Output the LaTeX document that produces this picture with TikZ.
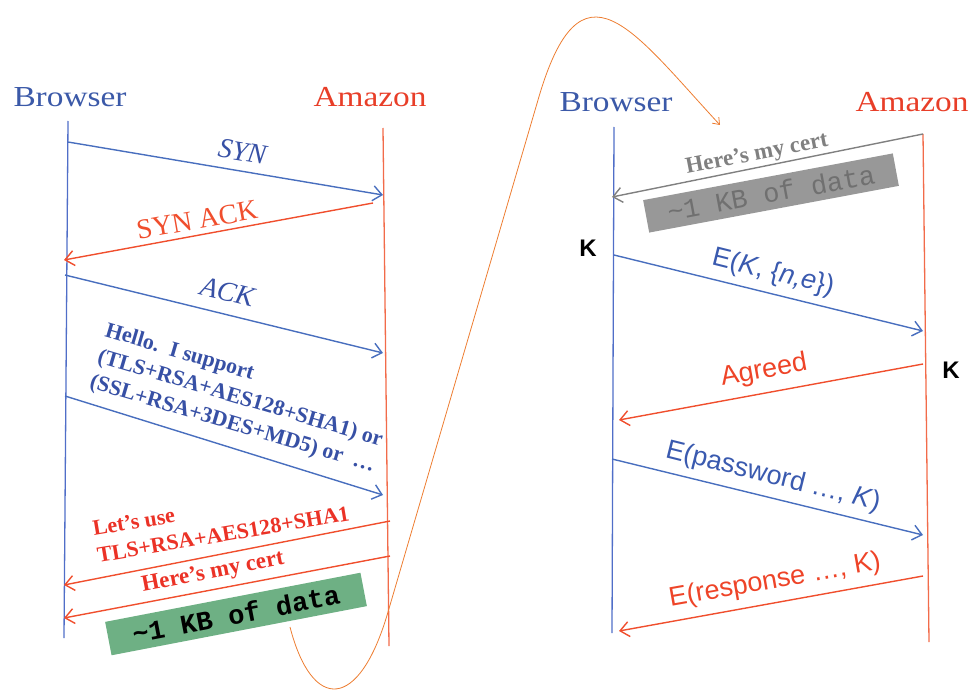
\documentclass[tikz,border=0pt]{standalone}
\usepackage{fontspec}
\setmainfont{Liberation Serif}
\setsansfont{Liberation Sans}
\setmonofont{Liberation Mono}
\usetikzlibrary{arrows.meta}
\definecolor{hdrblue}{RGB}{59,89,168}
\definecolor{hdrred}{RGB}{232,62,40}
\definecolor{lifeblue}{RGB}{80,110,200}
\definecolor{lifered}{RGB}{242,107,74}
\definecolor{arrblue}{RGB}{72,110,190}
\definecolor{arrred}{RGB}{240,78,45}
\definecolor{txtblue}{RGB}{55,80,165}
\definecolor{txtred}{RGB}{235,50,38}
\definecolor{sansblue}{RGB}{58,90,175}
\definecolor{sansred}{RGB}{238,68,40}
\definecolor{boxgreen}{RGB}{110,176,132}
\definecolor{boxgrey}{RGB}{152,152,152}
\definecolor{greytxt}{RGB}{112,112,112}
\definecolor{greyarr}{RGB}{128,128,128}
\definecolor{curveorange}{RGB}{237,125,49}
\begin{document}
\begin{tikzpicture}[x=1pt,y=-1pt,
  hdr/.style={font=\fontsize{29}{32}\selectfont, xscale=1.15, anchor=base, inner sep=0pt},
  life/.style={line width=1.3pt},
  msg/.style={line width=1.4pt, -{Straight Barb[length=9pt,width=15pt]}},
  lbl/.style={inner sep=0pt, anchor=center},
  serifbig/.style={font=\fontsize{28}{30}\selectfont},
  boldlbl/.style={font=\fontsize{22}{27}\selectfont\bfseries, align=left},
  sanslbl/.style={font=\sffamily\fontsize{27}{30}\selectfont},
  klbl/.style={font=\sffamily\bfseries\fontsize{24}{26}\selectfont, inner sep=0pt},
  databox/.style={inner sep=0pt, minimum height=34pt, font=\ttfamily\fontsize{27}{27}\selectfont},
  arc/.style={draw=curveorange, line width=0.8pt, -{Straight Barb[length=6pt,width=9pt]}}
]
\useasboundingbox (0,0) rectangle (969,690);

% ---------- left panel ----------
\node[hdr, text=hdrblue] (lbrowser) at (70,107) {Browser};
\node[hdr, text=hdrred] (lamazon) at (370,107) {Amazon};
\coordinate (LBt) at (68,121);  \coordinate (LBb) at (64,638);
\coordinate (LAt) at (383,128); \coordinate (LAb) at (389,646);
\draw[life, draw=lifeblue] (LBt) -- (LBb);
\draw[life, draw=lifered] (LAt) -- (LAb);

\coordinate (m1a) at (68,142);  \coordinate (m1b) at (383,195);
\coordinate (m2a) at (373,203); \coordinate (m2b) at (64,260);
\coordinate (m3a) at (65,275);  \coordinate (m3b) at (383,353);
\coordinate (m4a) at (65,396);  \coordinate (m4b) at (383,495);
\coordinate (m5a) at (390,521); \coordinate (m5b) at (64,585);
\coordinate (m6a) at (390,556); \coordinate (m6b) at (64,618);
\draw[msg, draw=arrblue] (m1a) -- (m1b);
\draw[msg, draw=arrred]  (m2a) -- (m2b);
\draw[msg, draw=arrblue] (m3a) -- (m3b);
\draw[msg, draw=arrblue] (m4a) -- (m4b);
\draw[msg, draw=arrred]  (m5a) -- (m5b);
\draw[msg, draw=arrred]  (m6a) -- (m6b);

\node[lbl, serifbig, text=txtblue, rotate=-9.5] (tsyn) at (243,152) {\textit{SYN}};
\node[lbl, serifbig, text=arrred, rotate=10] (tsynack) at (197,220) {SYN ACK};
\node[lbl, serifbig, text=txtblue, rotate=-14] (tack) at (228,292) {\textit{ACK}};
\node[lbl, boldlbl, text=txtblue, rotate=-16.5] (thello) at (240,399)
  {Hello.\ \ I support\\(TLS+RSA+AES128+SHA1) or\\(SSL+RSA+3DES+MD5) or\ \ …};
\node[lbl, boldlbl, text=txtred, rotate=9.5] (tlets) at (221,521)
  {Let’s use\\TLS+RSA+AES128+SHA1};
\node[lbl, font=\fontsize{23}{25}\selectfont\bfseries, text=txtred, rotate=11] (tcert) at (213,573) {Here’s my cert};
\node[databox, fill=boxgreen, minimum width=260pt, rotate=10.9] (gbox) at (236,614)
  {\bfseries\textasciitilde1 KB of data};

% ---------- right panel ----------
\node[hdr, text=hdrblue] (rbrowser) at (616,112) {Browser};
\node[hdr, text=hdrred] (ramazon) at (912,112) {Amazon};
\coordinate (RBt) at (614,127); \coordinate (RBb) at (612,633);
\coordinate (RAt) at (923,134); \coordinate (RAb) at (929,642);
\draw[life, draw=lifeblue] (RBt) -- (RBb);
\draw[life, draw=lifered] (RAt) -- (RAb);

\coordinate (n1a) at (923,134); \coordinate (n1b) at (612,197);
\coordinate (n2a) at (614,255); \coordinate (n2b) at (923,331);
\coordinate (n3a) at (923,364); \coordinate (n3b) at (619,420);
\coordinate (n4a) at (612,459); \coordinate (n4b) at (923,535);
\coordinate (n5a) at (923,576); \coordinate (n5b) at (619,631);
\draw[msg, draw=greyarr] (n1a) -- (n1b);
\draw[msg, draw=arrblue] (n2a) -- (n2b);
\draw[msg, draw=arrred]  (n3a) -- (n3b);
\draw[msg, draw=arrblue] (n4a) -- (n4b);
\draw[msg, draw=arrred]  (n5a) -- (n5b);

\node[lbl, font=\fontsize{23}{25}\selectfont\bfseries, text=greyarr, rotate=11] (tgcert) at (757,155) {Here’s my cert};
\node[databox, fill=boxgrey, text=greytxt, minimum width=254pt, minimum height=33pt, rotate=10.6] (xbox) at (771,193)
  {\textasciitilde1 KB of data};
\node[klbl] (kleft) at (588,248) {K};
\node[klbl] (kright) at (951,370) {K};
\node[lbl, sanslbl, text=sansblue, rotate=-14] (tek) at (773,273) {E(\textit{K}, \{\textit{n,e}\})};
\node[lbl, sanslbl, text=sansred, rotate=10] (tagreed) at (764,371) {Agreed};
\node[lbl, sanslbl, text=sansblue, rotate=-14] (tpw) at (773,477) {E(password …, \textit{K})};
\node[lbl, sanslbl, text=sansred, rotate=10] (tresp) at (775,581) {E(response …, K)};

% ---------- curved pointer ----------
\coordinate (c0) at (290,627);
\coordinate (c1) at (388,612);
\coordinate (c2) at (538,100);
\coordinate (c3) at (720,125);
\draw[arc] (c0) .. controls (312,712) and (359,712) .. (c1) -- (c2)
  .. controls (581,-49) and (632,30) .. (c3);
\end{tikzpicture}
\end{document}
